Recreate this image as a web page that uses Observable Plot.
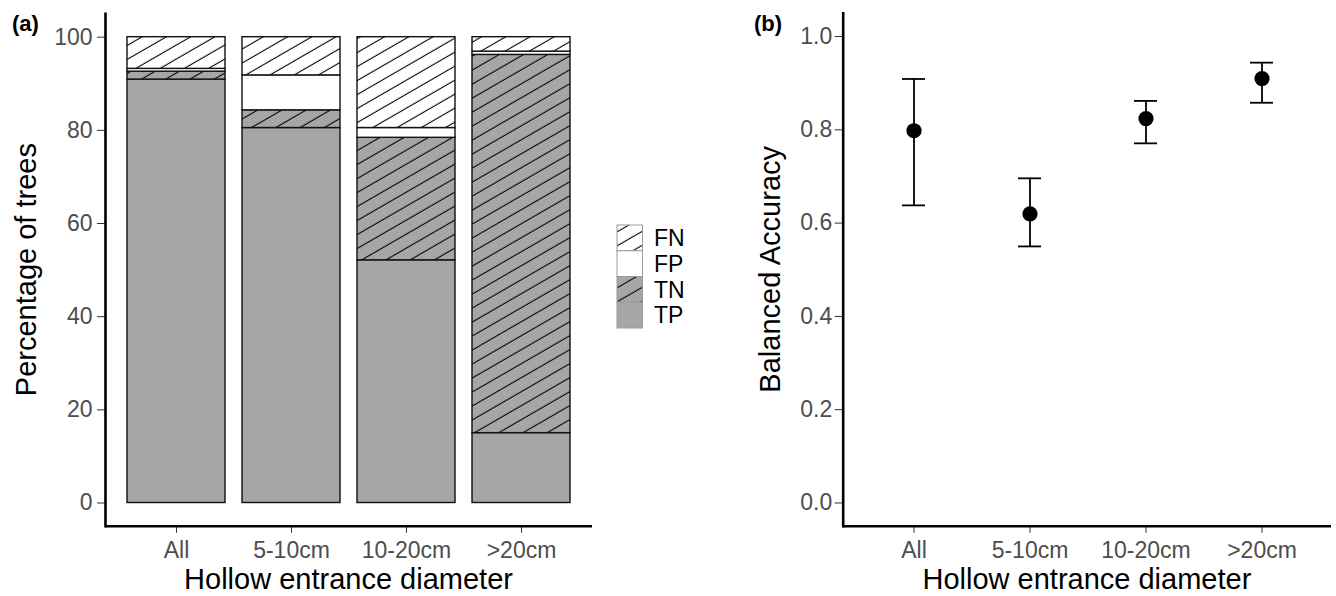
<!DOCTYPE html>
<html>
<head>
<meta charset="utf-8">
<script src="https://cdn.jsdelivr.net/npm/d3@7"></script>
<script src="https://cdn.jsdelivr.net/npm/@observablehq/plot@0.6"></script>
<style>
  body { margin: 0; background: #fff; font-family: "Liberation Sans", Arial, sans-serif; }
  #wrap { position: relative; width: 1336px; height: 596px; overflow: hidden; background: #fff; }
  #pa, #pb { position: absolute; top: 0; }
  #pa { left: 0; }
  #pb { left: 740px; }
</style>
</head>
<body>
<svg width="0" height="0" style="position:absolute">
  <defs>
    <pattern id="hatchWhite" patternUnits="userSpaceOnUse" width="12" height="12.12" patternTransform="rotate(-30)">
      <rect x="-1" y="-1" width="14" height="14.12" fill="#ffffff"/>
      <line x1="-1" x2="13" y1="6" y2="6" stroke="#000" stroke-width="1.1"/>
    </pattern>
    <pattern id="hatchGray" patternUnits="userSpaceOnUse" width="12" height="12.12" patternTransform="rotate(-30)">
      <rect x="-1" y="-1" width="14" height="14.12" fill="#A6A6A6"/>
      <line x1="-1" x2="13" y1="6" y2="6" stroke="#000" stroke-width="1.1"/>
    </pattern>
  </defs>
</svg>
<div id="wrap">
  <div id="pa"></div>
  <div id="pb"></div>
</div>
<script>
// ---- Data ----
const categories = ["All", "5-10cm", "10-20cm", ">20cm"];
// stacked percentages (bottom to top: TP, TN, FP, FN)
const stackOrder = ["TP", "TN", "FP", "FN"];
const TP = [90.9, 80.5, 52.1, 15.0];
const TN = [1.7, 3.8, 26.3, 81.2];
const FP = [0.6, 7.5, 2.1, 0.7];
const FN = [6.8, 8.2, 19.5, 3.1];
const legendOrder = ["FN", "FP", "TN", "TP"];
const legendFills = ["url(#hatchWhite)", "#ffffff", "url(#hatchGray)", "#A6A6A6"];
const yTicksA = [0, 20, 40, 60, 80, 100];

// balanced accuracy
const accuracy = [0.798, 0.620, 0.824, 0.910];
const accLower = [0.638, 0.550, 0.771, 0.858];
const accUpper = [0.909, 0.696, 0.862, 0.944];
const yTicksB = [0, 0.2, 0.4, 0.6, 0.8, 1.0];

const xTitle = "Hollow entrance diameter";
const yTitleA = "Percentage of trees";
const yTitleB = "Balanced Accuracy";

// ---- Build tables ----
const seriesByClass = {TP, TN, FP, FN};
const tableA = [];
categories.forEach((cat, i) => {
  stackOrder.forEach(cls => tableA.push({cat, cls, pct: seriesByClass[cls][i]}));
});
const tableB = categories.map((cat, i) => ({cat, acc: accuracy[i], lo: accLower[i], hi: accUpper[i]}));

const font = '"Liberation Sans", Arial, sans-serif';
const tickFill = "#4D4D4D";
const tickStroke = "#333333";
const tickFont = 23;
const titleFont = 29;

function addText(svg, txt, x, y, opts = {}) {
  return d3.select(svg).append("text")
    .attr("font-family", font)
    .attr("font-size", opts.size || titleFont)
    .attr("font-weight", opts.weight || "normal")
    .attr("fill", "#000")
    .attr("text-anchor", opts.anchor || "middle")
    .attr("transform", `translate(${x},${y})` + (opts.rotate ? ` rotate(${opts.rotate})` : ""))
    .text(txt);
}

// ---- Panel (a) ----
const pa = Plot.plot({
  width: 740, height: 596,
  marginLeft: 105, marginRight: 148, marginTop: 13.4, marginBottom: 70.2,
  style: {fontFamily: font, fontSize: tickFont + "px", background: "transparent", overflow: "visible"},
  x: {type: "band", domain: categories, paddingInner: 0.15, paddingOuter: 0.175, label: null},
  y: {domain: [-5, 105], label: null},
  color: {type: "ordinal", domain: legendOrder, range: legendFills},
  marks: [
    Plot.barY(tableA, {x: "cat", y: "pct", fill: "cls", stroke: "#111", strokeWidth: 1.4}),
    Plot.axisY({ticks: yTicksA, tickSize: 8, tickPadding: 5, fontSize: tickFont, fill: tickFill, stroke: tickStroke, label: null}),
    Plot.axisX({tickSize: 7, tickPadding: 8, fontSize: tickFont, fill: tickFill, stroke: tickStroke, label: null}),
    Plot.ruleY([-5], {stroke: "#000", strokeWidth: 2.6}),
    Plot.frame({anchor: "left", stroke: "#000", strokeWidth: 2.6})
  ]
});
document.getElementById("pa").appendChild(pa);
addText(pa, xTitle, 348.5, 589);
addText(pa, yTitleA, 36, 269.6, {rotate: -90});
addText(pa, "(a)", 12, 31, {size: 22, weight: "bold", anchor: "start"});

// legend (drawn into panel (a) svg)
const lg = d3.select(pa).append("g").attr("transform", "translate(617,225)");
const keyH = 25.75, keyW = 25.5;
legendOrder.forEach((cls, i) => {
  lg.append("rect").attr("x", 0).attr("y", i * keyH).attr("width", keyW).attr("height", keyH)
    .attr("fill", legendFills[i]).attr("stroke", "#9a9a9a").attr("stroke-width", 1);
  lg.append("text").attr("x", 37).attr("y", i * keyH + keyH / 2).attr("dy", "0.36em")
    .attr("text-anchor", "start")
    .attr("font-size", 23).attr("font-family", font).attr("fill", "#000").text(cls);
});

// ---- Panel (b) ----
const bandPadInner = 0.15, bandPadOuter = 0.175;
const capInset = 38;
const pb = Plot.plot({
  width: 596, height: 596,
  marginLeft: 102.7, marginRight: 5, marginTop: 12.7, marginBottom: 70.2,
  style: {fontFamily: font, fontSize: tickFont + "px", background: "transparent", overflow: "visible"},
  x: {type: "band", domain: categories, paddingInner: bandPadInner, paddingOuter: bandPadOuter, label: null},
  y: {domain: [-0.05, 1.05], label: null},
  marks: [
    Plot.ruleX(tableB, {x: "cat", y1: "lo", y2: "hi", stroke: "#000", strokeWidth: 1.8}),
    Plot.tickY(tableB, {x: "cat", y: "lo", stroke: "#000", strokeWidth: 1.8, insetLeft: capInset, insetRight: capInset}),
    Plot.tickY(tableB, {x: "cat", y: "hi", stroke: "#000", strokeWidth: 1.8, insetLeft: capInset, insetRight: capInset}),
    Plot.dot(tableB, {x: "cat", y: "acc", r: 7.6, fill: "#000", stroke: null}),
    Plot.axisY({ticks: yTicksB, tickFormat: d3.format(".1f"), tickSize: 8, tickPadding: 3, fontSize: tickFont, fill: tickFill, stroke: tickStroke, label: null}),
    Plot.axisX({tickSize: 7, tickPadding: 8, fontSize: tickFont, fill: tickFill, stroke: tickStroke, label: null}),
    Plot.ruleY([-0.05], {stroke: "#000", strokeWidth: 2.6}),
    Plot.frame({anchor: "left", stroke: "#000", strokeWidth: 2.6})
  ]
});
document.getElementById("pb").appendChild(pb);
addText(pb, xTitle, 346.9, 589);
addText(pb, yTitleB, 40, 269.3, {rotate: -90});
addText(pb, "(b)", 14, 31, {size: 22, weight: "bold", anchor: "start"});
</script>
</body>
</html>
